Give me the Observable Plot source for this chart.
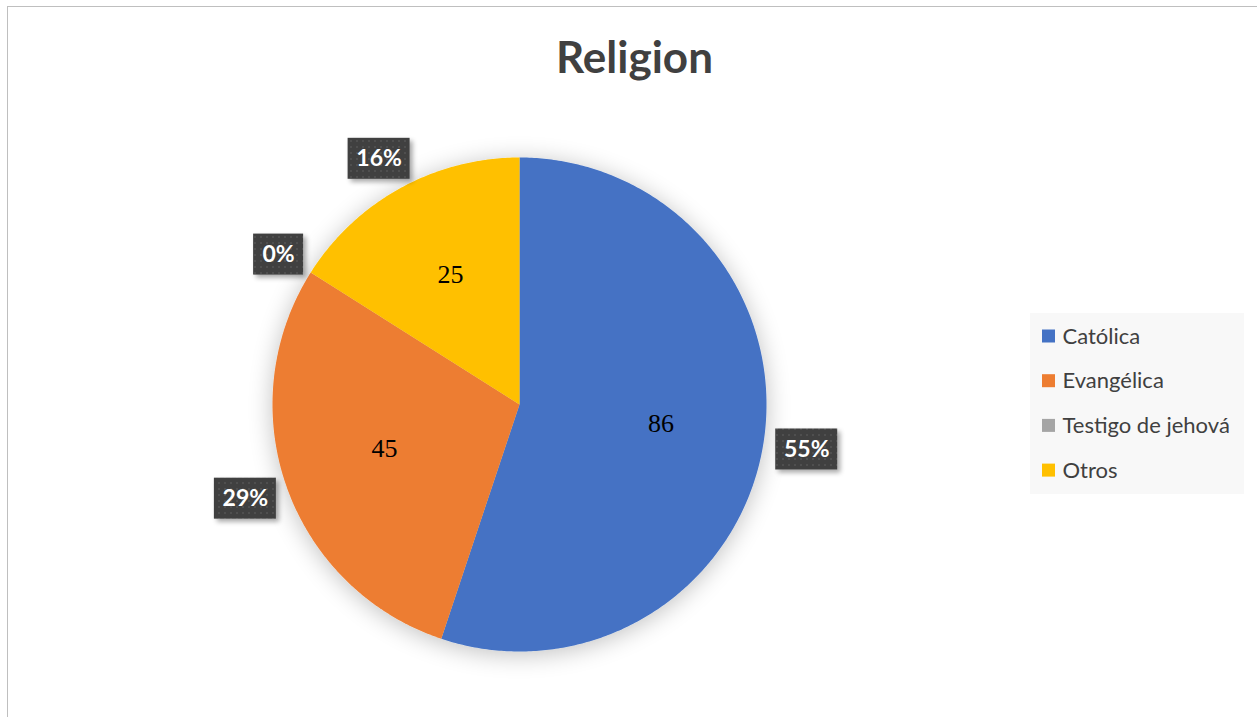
<!DOCTYPE html>
<html>
<head>
<meta charset="utf-8">
<script src="https://cdn.jsdelivr.net/npm/d3@7"></script>
<script src="https://cdn.jsdelivr.net/npm/@observablehq/plot@0.6"></script>
<style>
  html, body { margin: 0; padding: 0; background: #fff; }
  #frame { position: absolute; left: 7px; top: 6px; width: 1300px; height: 800px; border: 1px solid #BFBFBF; box-sizing: border-box; }
  #chart { position: absolute; left: 0; top: 0; }
</style>
</head>
<body>
<div id="frame"></div>
<div id="chart"></div>
<script>
// ---- data ----
const categories = ["Católica", "Evangélica", "Testigo de jehová", "Otros"];
const values = [86, 45, 0, 25];
const colors = ["#4472C4", "#ED7D31", "#A5A5A5", "#FFC000"];
const title = "Religion";

// ---- layout ----
const W = 1257, H = 717;
const cx = 519, cy = 404, R = 247;
const total = d3.sum(values);

const arcs = d3.pie().sort(null).value(d => d.value)(categories.map((c, i) => ({cat: c, value: values[i]})));

// polygon points for each slice
const slicePts = [];
arcs.forEach(a => {
  if (a.endAngle - a.startAngle <= 0) return;
  const n = Math.max(2, Math.ceil((a.endAngle - a.startAngle) / 0.01));
  slicePts.push({cat: a.data.cat, x: cx, y: cy});
  for (let k = 0; k <= n; k++) {
    const t = a.startAngle + (a.endAngle - a.startAngle) * k / n;
    slicePts.push({cat: a.data.cat, x: cx + R * Math.sin(t), y: cy - R * Math.cos(t)});
  }
  slicePts.push({cat: a.data.cat, x: cx, y: cy});
});

const mid = a => (a.startAngle + a.endAngle) / 2;
// inside value labels (omit zero)
const valueLabels = arcs.filter(a => a.value > 0).map(a => ({
  text: String(a.value),
  x: cx + 0.58 * R * Math.sin(mid(a)),
  y: cy - 0.58 * R * Math.cos(mid(a)) - 4
}));
// outside percentage labels (box placed just outside the rim)
const pctLabels = arcs.map(a => {
  const t = Math.round(a.value / total * 100) + "%";
  const ux = Math.sin(mid(a)), uy = -Math.cos(mid(a));
  const w = 12 * t.length + 26, h = 41;
  const x = cx + (R + 13) * ux + ux * w / 2;
  const y = cy + (R + 13) * uy + uy * h / 2;
  return {text: t, x, y, x1: x - w / 2, x2: x + w / 2, y1: y - h / 2, y2: y + h / 2};
});

// legend
const lgX = 1030, lgY = 313, lgStep = 44.7;
const legendItems = categories.map((c, i) => ({
  cat: c,
  y: lgY + 23 + i * lgStep
}));

const plot = Plot.plot({
  width: W, height: H,
  margin: 0,
  x: {type: "identity", axis: null},
  y: {type: "identity", axis: null},
  color: {domain: categories, range: colors},
  style: {background: "transparent", overflow: "visible"},
  marks: [
    // pie
    Plot.line(slicePts, {x: "x", y: "y", z: "cat", fill: "cat", stroke: "none", curve: "linear"}),
    // value labels
    Plot.text(valueLabels, {x: "x", y: "y", text: "text", fontFamily: "Liberation Serif", fontSize: 26, fill: "#000"}),
    // percentage label boxes
    Plot.rect(pctLabels, {x1: "x1", x2: "x2", y1: "y1", y2: "y2", fill: "url(#dots)"}),
    Plot.text(pctLabels, {x: "x", y: "y", text: "text", fontFamily: "Lato", fontWeight: "bold", fontSize: 23, fill: "#fff"}),
    // title
    Plot.text([title], {x: () => 634, y: () => 58, text: d => d, fontFamily: "Lato", fontWeight: "bold", fontSize: 44, fill: "#404040"}),
    // legend background
    Plot.rect([0], {x1: () => lgX, x2: () => lgX + 214, y1: () => lgY, y2: () => lgY + 181, fill: "#F8F8F8"}),
    // legend swatches
    Plot.rect(legendItems, {x1: () => lgX + 12, x2: () => lgX + 25, y1: d => d.y - 6.5, y2: d => d.y + 6.5, fill: "cat"}),
    Plot.text(legendItems, {x: () => lgX + 32, y: "y", text: "cat", textAnchor: "start", fontFamily: "Lato", fontSize: 22, fill: "#404040"})
  ]
});

// defs: shadow filters and dotted pattern
const svg = d3.select(plot);
const defs = svg.insert("defs", ":first-child");
const f = defs.append("filter").attr("id", "pieShadow").attr("x", "-20%").attr("y", "-20%").attr("width", "140%").attr("height", "140%");
f.append("feGaussianBlur").attr("in", "SourceAlpha").attr("stdDeviation", 12);
f.append("feOffset").attr("dx", 0).attr("dy", 3).attr("result", "b");
f.append("feComponentTransfer").attr("in", "b").attr("result", "b2").append("feFuncA").attr("type", "linear").attr("slope", 0.25);
const m = f.append("feMerge");
m.append("feMergeNode").attr("in", "b2");
m.append("feMergeNode").attr("in", "SourceGraphic");

const f2 = defs.append("filter").attr("id", "boxShadow").attr("x", "-30%").attr("y", "-30%").attr("width", "160%").attr("height", "160%");
f2.append("feGaussianBlur").attr("in", "SourceAlpha").attr("stdDeviation", 2.5);
f2.append("feOffset").attr("dx", 3).attr("dy", 3).attr("result", "b");
f2.append("feComponentTransfer").attr("in", "b").attr("result", "b2").append("feFuncA").attr("type", "linear").attr("slope", 0.35);
const m2 = f2.append("feMerge");
m2.append("feMergeNode").attr("in", "b2");
m2.append("feMergeNode").attr("in", "SourceGraphic");

const pat = defs.append("pattern").attr("id", "dots").attr("width", 6).attr("height", 6).attr("patternUnits", "userSpaceOnUse");
pat.append("rect").attr("width", 6).attr("height", 6).attr("fill", "#404040");
pat.append("rect").attr("x", 2).attr("y", 2).attr("width", 2).attr("height", 2).attr("fill", "#4f4f4f");

const groups = svg.selectAll(":scope > g").nodes();
groups[0].setAttribute("filter", "url(#pieShadow)");
groups[2].setAttribute("filter", "url(#boxShadow)");

document.getElementById("chart").appendChild(plot);
</script>
</body>
</html>
